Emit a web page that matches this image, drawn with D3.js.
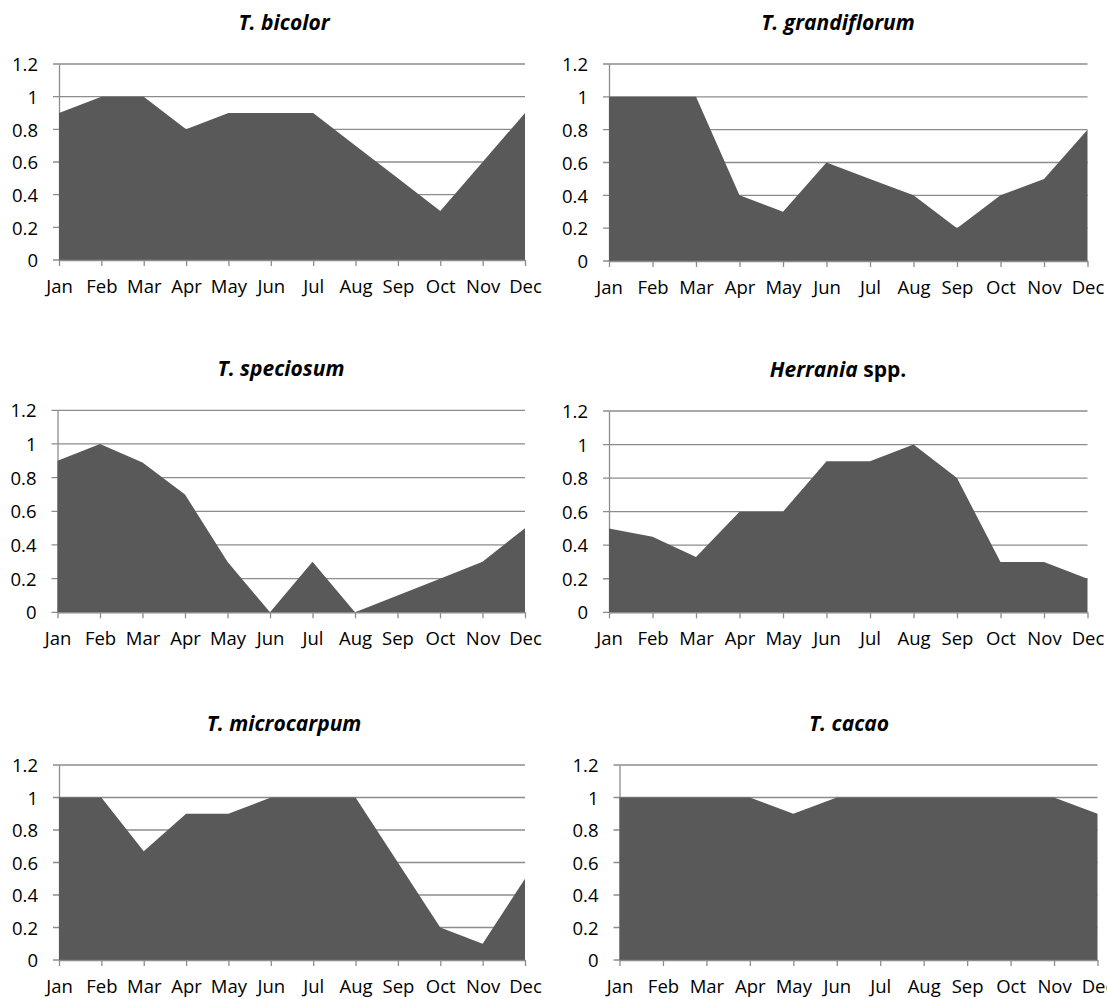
<!DOCTYPE html>
<html><head><meta charset="utf-8">
<script src="https://cdn.jsdelivr.net/npm/d3@7"></script>
<style>
html,body{margin:0;padding:0;background:#fff;}
svg{display:block;}
text{font-family:"Open Sans","Noto Sans",sans-serif;fill:#000;}
</style></head>
<body>
<svg id="chart" width="1107" height="999"></svg>
<script>
const months = ["Jan","Feb","Mar","Apr","May","Jun","Jul","Aug","Sep","Oct","Nov","Dec"];
const yTicks = [0, 0.2, 0.4, 0.6, 0.8, 1, 1.2];
const yTickLabels = ["0","0.2","0.4","0.6","0.8","1","1.2"];

const speciesNames = ["T. bicolor","T. grandiflorum","T. speciosum","Herrania spp.","T. microcarpum","T. cacao"];
const bicolor      = [0.9, 1, 1, 0.8, 0.9, 0.9, 0.9, 0.7, 0.5, 0.3, 0.6, 0.9];
const grandiflorum = [1, 1, 1, 0.4, 0.3, 0.6, 0.5, 0.4, 0.2, 0.4, 0.5, 0.8];
const speciosum    = [0.9, 1, 0.89, 0.7, 0.3, 0, 0.3, 0, 0.1, 0.2, 0.3, 0.5];
const herrania     = [0.5, 0.45, 0.33, 0.6, 0.6, 0.9, 0.9, 1, 0.8, 0.3, 0.3, 0.2];
const microcarpum  = [1, 1, 0.67, 0.9, 0.9, 1, 1, 1, 0.6, 0.2, 0.1, 0.5];
const cacao        = [1, 1, 1, 1, 0.9, 1, 1, 1, 1, 1, 1, 0.9];
const seriesList = [bicolor, grandiflorum, speciosum, herrania, microcarpum, cacao];

// layout (pixel geometry per panel)
const panels = [
  {x0:59,   x1:525,    yTop:64,    yBot:260,   titleX:284, titleY:30},
  {x0:609,  x1:1087.5, yTop:64,    yBot:261,   titleX:838, titleY:30},
  {x0:57.5, x1:525,    yTop:410.3, yBot:612.3, titleX:281, titleY:376},
  {x0:609,  x1:1087.5, yTop:411,   yBot:612.3, titleX:838, titleY:377},
  {x0:59,   x1:525,    yTop:765,   yBot:960,   titleX:284, titleY:731},
  {x0:619.5,x1:1097.5, yTop:765,   yBot:960,   titleX:849, titleY:731}
];

const svg = d3.select("#chart");
const gridColor = "#8c8c8c";
const fillColor = "#595959";
const tickFont = "18.5px";

panels.forEach((p, i) => {
  const data = seriesList[i];
  const x = d3.scalePoint().domain(months).range([p.x0, p.x1]);
  const y = d3.scaleLinear().domain([0, 1.2]).range([p.yBot, p.yTop]);
  const g = svg.append("g");

  // gridlines
  g.selectAll("line.grid").data(yTicks).enter().append("line")
    .attr("x1", p.x0 - 6).attr("x2", p.x1)
    .attr("y1", d => y(d)).attr("y2", d => y(d))
    .attr("stroke", gridColor).attr("stroke-width", 1.3);

  // y axis
  const yAxis = d3.axisLeft(y).tickValues(yTicks)
    .tickFormat((d, k) => yTickLabels[k]).tickSize(0).tickPadding(21);
  const ya = g.append("g").attr("transform", `translate(${p.x0},0)`).call(yAxis);
  ya.select(".domain").attr("stroke", gridColor).attr("stroke-width", 1.3);
  ya.selectAll("text").style("font-size", tickFont).attr("dy", "0.36em");

  // area
  const area = d3.area()
    .x((d, k) => x(months[k]))
    .y0(y(0)).y1(d => y(d));
  g.append("path").datum(data).attr("d", area).attr("fill", fillColor);

  // x axis
  const xAxis = d3.axisBottom(x).tickSize(6).tickPadding(14).tickSizeOuter(0);
  const xa = g.append("g").attr("transform", `translate(0,${p.yBot})`).call(xAxis);
  xa.select(".domain").attr("stroke", gridColor).attr("stroke-width", 1.3);
  xa.selectAll(".tick line").attr("stroke", gridColor).attr("stroke-width", 1.3);
  xa.selectAll("text").style("font-size", tickFont);

  // title
  const t = g.append("text").attr("x", p.titleX).attr("y", p.titleY)
    .attr("text-anchor", "middle").style("font-size", "21px").style("font-weight", "bold");
  const name = speciesNames[i];
  if (name.endsWith(" spp.")) {
    t.append("tspan").style("font-style", "italic").text(name.replace(" spp.", ""));
    t.append("tspan").text(" spp.");
  } else {
    t.append("tspan").style("font-style", "italic").text(name);
  }
});
</script>
</body></html>
